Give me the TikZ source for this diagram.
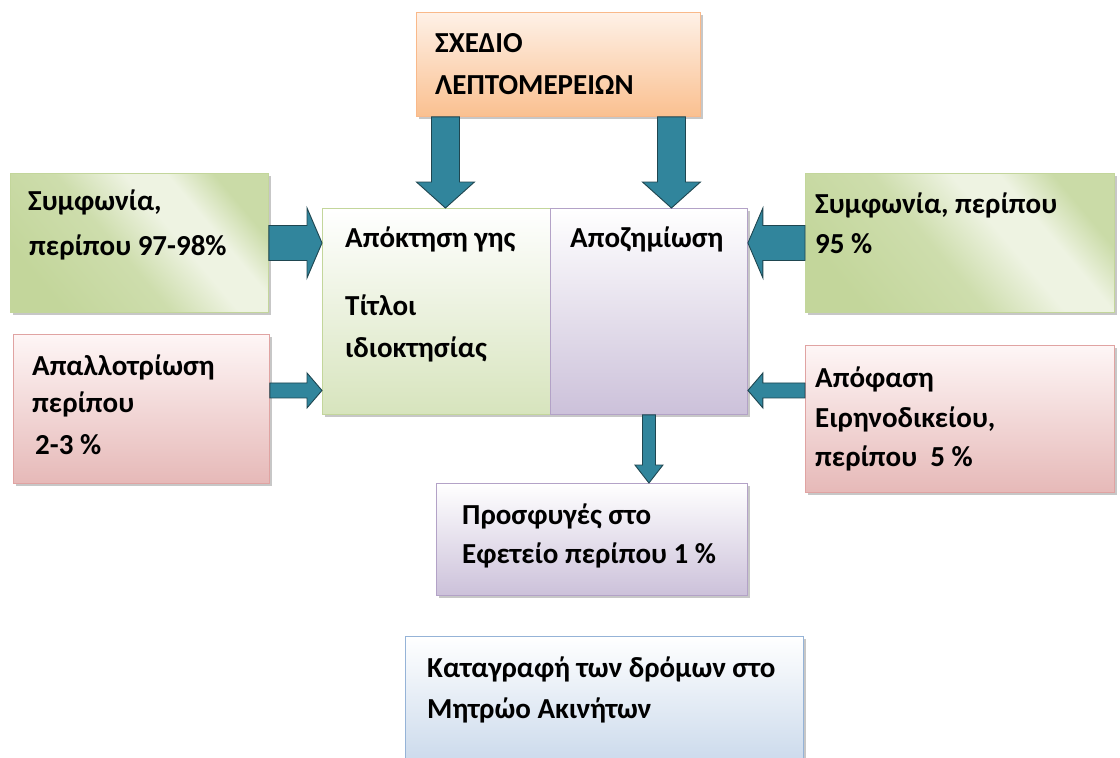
\documentclass[tikz,border=0pt]{standalone}
\usepackage{fontspec}
\setmainfont{Carlito}
\usetikzlibrary{calc}

% palette
\definecolor{arrowFill}{HTML}{31859C}
\definecolor{arrowLine}{HTML}{1F4650}
\definecolor{mossD}{HTML}{C3D69B}
\definecolor{mossL}{HTML}{EEF3E2}
\definecolor{mossM}{HTML}{CADBA7}
\definecolor{greenLine}{HTML}{C3D69B}
\definecolor{greenBot}{HTML}{D7E4BD}
\definecolor{purpleBot}{HTML}{CCC1DA}
\definecolor{purpleLine}{HTML}{B3A2C7}
\definecolor{redTop}{HTML}{FEF6F6}
\definecolor{redBot}{HTML}{E6B9B8}
\definecolor{redLine}{HTML}{E0A3A2}
\definecolor{orTop}{HTML}{FEF1E7}
\definecolor{orBot}{HTML}{FAC090}
\definecolor{orLine}{HTML}{F9B98A}
\definecolor{blueBot}{HTML}{B9CDE5}
\definecolor{blueLine}{HTML}{95B3D7}

% diagonal light streak of the side "agreement" boxes
\pgfdeclarehorizontalshading{moss}{100bp}{color(0bp)=(mossD); color(25bp)=(mossD); color(45bp)=(mossD!75!mossL); color(58bp)=(mossL); color(66bp)=(mossL); color(75bp)=(mossM); color(100bp)=(mossM)}

\tikzset{
  x=1pt, y=-1pt,
  box/.style={draw, line width=0.9pt, inner sep=0pt, anchor=north west,
    preaction={fill=black!55, opacity=0.4,
      transform canvas={xshift=2.5pt, yshift=-3pt}}},
  orangebox/.style={box, draw=orLine, top color=orTop, bottom color=orBot},
  mossbox/.style={box, draw=greenLine, shading=moss, shading angle=40},
  redbox/.style={box, draw=redLine, top color=redTop, bottom color=redBot},
  greenbox/.style={box, draw=greenLine, top color=white, bottom color=greenBot},
  purplebox/.style={box, draw=purpleLine, top color=white, bottom color=purpleBot},
  bluebox/.style={box, draw=blueLine, top color=white, bottom color=blueBot},
  label/.style={anchor=base west, inner sep=0pt, font=\fontsize{29}{33}\selectfont\bfseries},
  barrowstyle/.style={fill=arrowFill, draw=arrowLine, line width=0.9pt, line join=miter},
}

% block arrow: start, tip, shaft half-width, head half-width, head length
\newcommand\blockarrow[5]{%
  \coordinate (ba-h) at ($(#2)!#5!(#1)$);
  \draw[barrowstyle]
    ($(#1)!#3!90:(#2)$) -- ($(ba-h)!#3!90:(#2)$) -- ($(ba-h)!#4!90:(#2)$)
    -- (#2)
    -- ($(ba-h)!#4!-90:(#2)$) -- ($(ba-h)!#3!-90:(#2)$) -- ($(#1)!#3!-90:(#2)$)
    -- cycle;}

\begin{document}
\begin{tikzpicture}
\fill[white] (0,0) rectangle (1120,758);
\clip (0,0) rectangle (1120,758);

% boxes
\node[orangebox, minimum width=284pt, minimum height=104pt] (oB) at (416,12) {};
\node[mossbox,   minimum width=258pt, minimum height=139pt] (gL) at (10,173) {};
\node[redbox,    minimum width=256pt, minimum height=149pt] (rL) at (13,334) {};
\node[greenbox,  minimum width=228pt, minimum height=206pt] (cG) at (322,208) {};
\node[purplebox, minimum width=197pt, minimum height=206pt] (cP) at (550,208) {};
\node[mossbox,   minimum width=309pt, minimum height=139pt] (rG) at (805,173) {};
\node[redbox,    minimum width=309pt, minimum height=147pt] (rR) at (805,345) {};
\node[purplebox, minimum width=311pt, minimum height=112pt] (pB) at (436,483) {};
\node[bluebox,   minimum width=398pt, minimum height=170pt] (bB) at (405,636) {};

% texts
\node[label] (t1) at (435,52) {ΣΧΕΔΙΟ};
\node[label] (t2) at (435,94) {ΛΕΠΤΟΜΕΡΕΙΩΝ};
\node[label] (t3) at (28,210) {Συμφωνία,};
\node[label] (t4) at (29,255) {περίπου 97-98\%};
\node[label] (t5) at (32,375) {Απαλλοτρίωση};
\node[label] (t6) at (32,412) {περίπου};
\node[label] (t7) at (35,454) {2-3 \%};
\node[label] (t8) at (345,247) {Απόκτηση γης};
\node[label] (t9) at (345,315) {Τίτλοι};
\node[label] (t10) at (345,357) {ιδιοκτησίας};
\node[label] (t11) at (570,247) {Αποζημίωση};
\node[label] (t12) at (815,213) {Συμφωνία, περίπου};
\node[label] (t13) at (815,253) {95 \%};
\node[label] (t14) at (815,387) {Απόφαση};
\node[label] (t15) at (815,427) {Ειρηνοδικείου,};
\node[label] (t16) at (815,466) {περίπου\ \ 5 \%};
\node[label] (t17) at (462,524) {Προσφυγές στο};
\node[label] (t18) at (462,563) {Εφετείο περίπου 1 \%};
\node[label] (t19) at (427,677) {Καταγραφή των δρόμων στο};
\node[label] (t20) at (427,718) {Μητρώο Ακινήτων};

% arrow anchors
\coordinate (a2s) at ([yshift=18.5pt]rL.east);
\coordinate (a4s) at ([yshift=28.5pt]rR.west);
\coordinate (a5s) at ([xshift=-113pt]oB.south);
\coordinate (a6s) at ([xshift=113pt]oB.south);

% block arrows
\blockarrow{gL.east}{cG.west |- gL.east}{17.5pt}{35pt}{15pt}
\blockarrow{a2s}{cG.west |- a2s}{7.5pt}{17.5pt}{15pt}
\blockarrow{rG.west}{cP.east |- rG.west}{17.5pt}{35pt}{15pt}
\blockarrow{a4s}{cP.east |- a4s}{7.5pt}{17.5pt}{15pt}
\blockarrow{a5s}{a5s |- cG.north}{14pt}{29pt}{26pt}
\blockarrow{a6s}{a6s |- cP.north}{14pt}{29pt}{26pt}
\blockarrow{cP.south}{cP.south |- pB.north}{6.5pt}{14pt}{18pt}
\end{tikzpicture}
\end{document}
